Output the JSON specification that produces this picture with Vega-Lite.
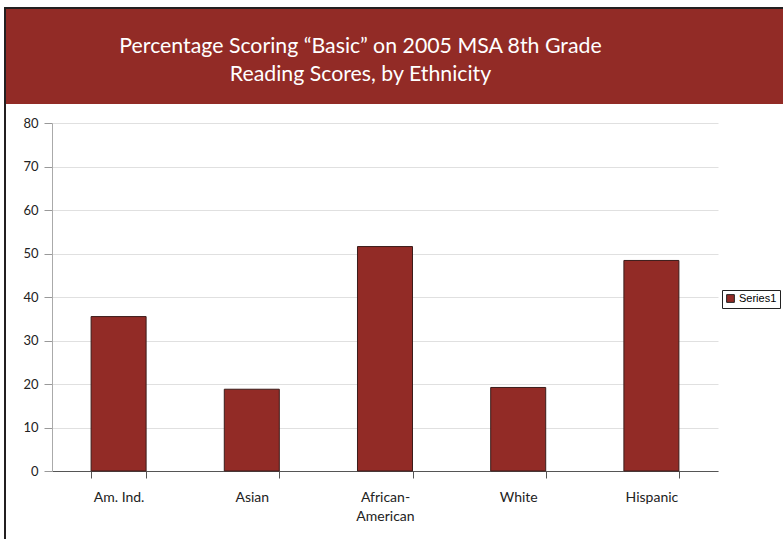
{
  "$schema": "https://vega.github.io/schema/vega-lite/v6.json",
  "padding": {"left": 4, "top": 7, "right": 0, "bottom": 0},
  "background": "white",
  "config": {"view": {"stroke": null}, "font": "Lato"},
  "spacing": 0,
  "hconcat": [
    {
      "width": 2,
      "height": 532,
      "data": {"values": [{"part": "frame"}]},
      "mark": {"type": "rect", "color": "#231f20"}
    },
    {
      "spacing": 13,
      "vconcat": [
        {
          "spacing": 0,
          "vconcat": [
            {
              "width": 777,
              "height": 2,
              "data": {"values": [{"part": "frame"}]},
              "mark": {"type": "rect", "color": "#231f20"}
            },
            {
              "width": 777,
              "height": 95,
              "data": {"values": [{"title": "Percentage Scoring “Basic” on 2005 MSA 8th Grade\nReading Scores, by Ethnicity"}]},
              "layer": [
                {"mark": {"type": "rect", "color": "#922B26"}},
                {
                  "mark": {"type": "text", "color": "white", "font": "Lato", "fontSize": 21.3, "lineBreak": "\n", "lineHeight": 28, "dx": -34, "dy": -10, "baseline": "middle", "align": "center"},
                  "encoding": {"text": {"field": "title", "type": "nominal"}}
                }
              ]
            }
          ]
        },
        {
          "width": 712,
          "height": 348,
          "data": {
            "values": [
              {"ethnicity": "Am. Ind.", "percent": 35.5, "series": "Series1"},
              {"ethnicity": "Asian", "percent": 18.8, "series": "Series1"},
              {"ethnicity": "African-American", "percent": 51.6, "series": "Series1"},
              {"ethnicity": "White", "percent": 19.2, "series": "Series1"},
              {"ethnicity": "Hispanic", "percent": 48.4, "series": "Series1"}
            ]
          },
          "mark": {"type": "bar", "stroke": "#3b1c1a", "strokeWidth": 1},
          "encoding": {
            "x": {
              "field": "ethnicity",
              "type": "nominal",
              "sort": null,
              "scale": {"paddingInner": 0.587, "paddingOuter": 0.2935, "rangeMin": 46},
              "axis": {
                "title": null,
                "labelAngle": 0,
                "labelFont": "Lato",
                "labelFontSize": 14,
                "labelColor": "#222222",
                "labelPadding": 12,
                "labelLineHeight": 19,
                "labelBaseline": "top",
                "labelExpr": "datum.label == 'African-American' ? ['African-', 'American'] : datum.label",
                "tickBand": "extent",
                "tickSize": 7,
                "tickColor": "#555555",
                "domainColor": "#555555",
                "grid": false
              }
            },
            "y": {
              "field": "percent",
              "type": "quantitative",
              "scale": {"domain": [0, 80], "nice": false},
              "axis": {
                "title": null,
                "offset": -46,
                "values": [0, 10, 20, 30, 40, 50, 60, 70, 80],
                "labelFont": "Lato",
                "labelFontSize": 13,
                "labelColor": "#222222",
                "labelPadding": 6,
                "tickSize": 8,
                "tickColor": "#999999",
                "domainColor": "#aaaaaa",
                "gridColor": "#e0e0e0"
              }
            },
            "color": {
              "field": "series",
              "type": "nominal",
              "scale": {"range": ["#922B26"]},
              "legend": {
                "title": null,
                "orient": "none",
                "legendX": 718,
                "legendY": 283,
                "symbolType": "square",
                "symbolSize": 60,
                "symbolStrokeColor": "#222222",
                "symbolStrokeWidth": 1,
                "labelFont": "Liberation Sans",
                "labelFontSize": 11,
                "labelColor": "#000000",
                "strokeColor": "#222222",
                "padding": 3,
                "labelOffset": 3
              }
            }
          }
        }
      ]
    }
  ]
}
